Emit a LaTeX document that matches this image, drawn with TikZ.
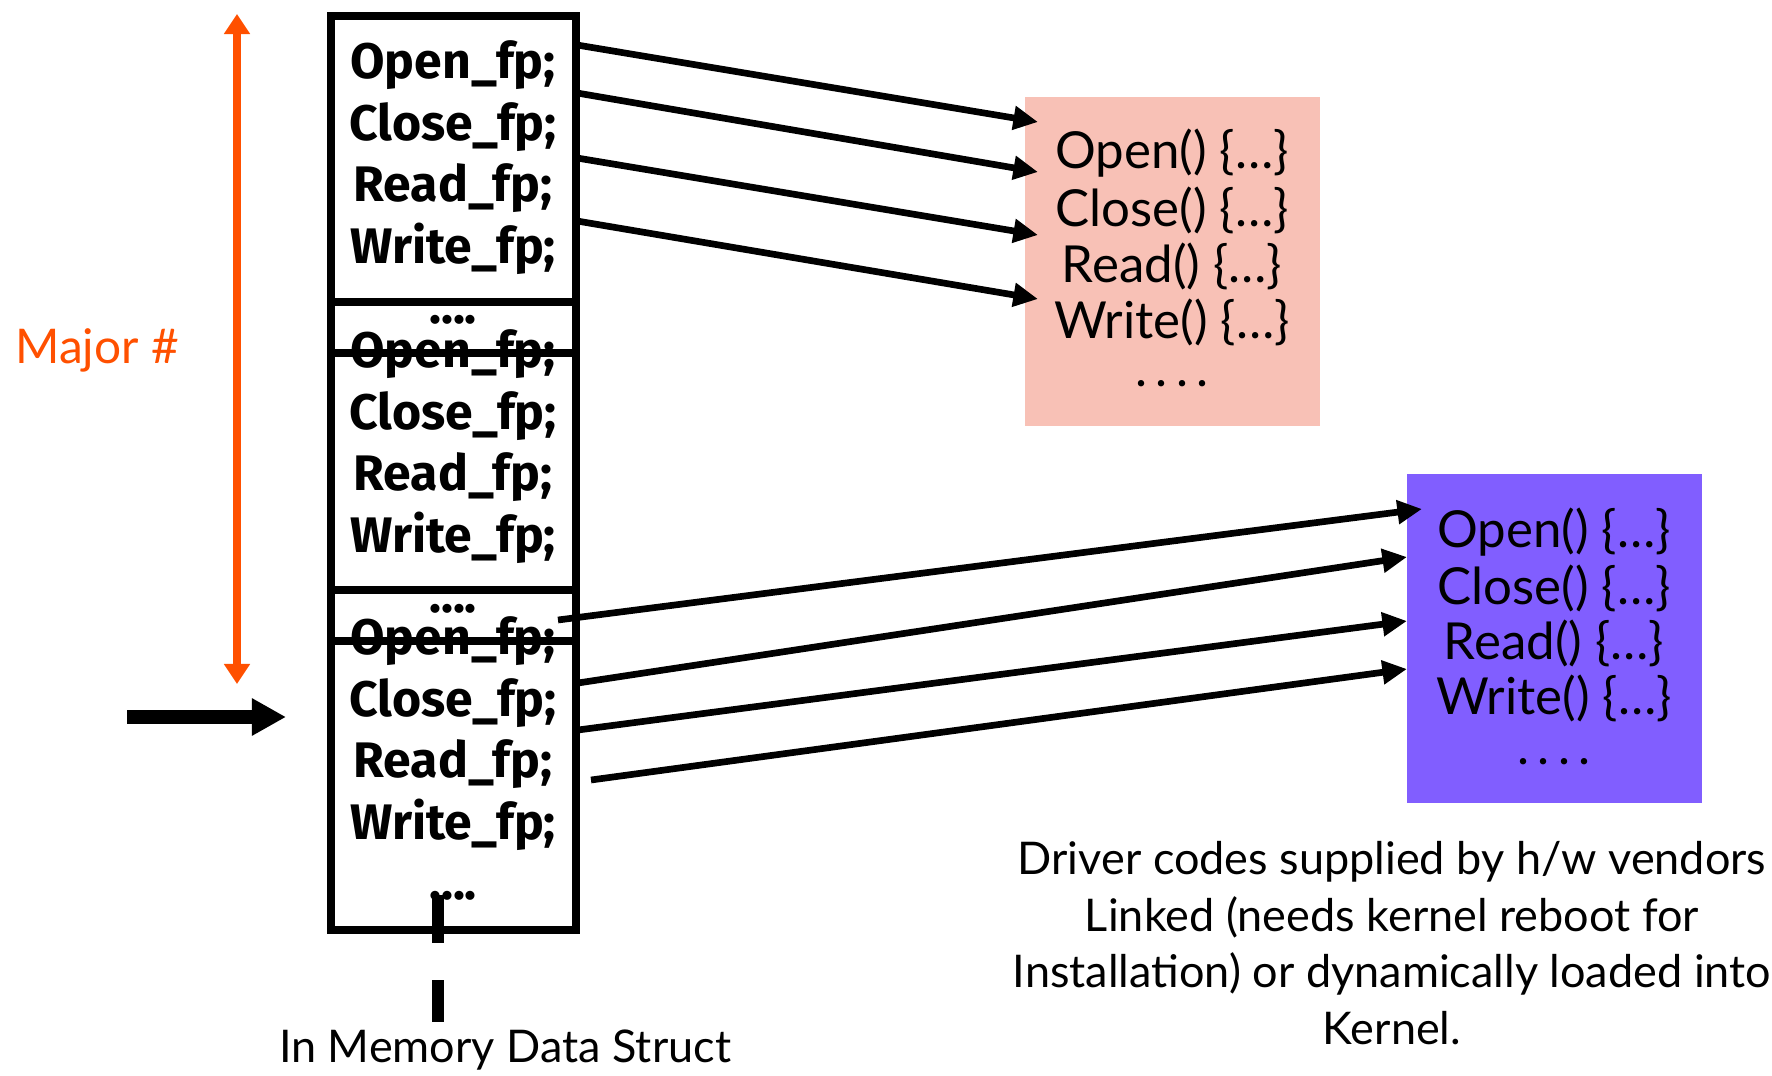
\documentclass[tikz,border=0pt]{standalone}
\usepackage{fontspec}
\usepackage{tikz}
\usetikzlibrary{arrows.meta}
\newfontfamily\gillfont{Lato}
\newfontfamily\comicfont{Fira Sans}
\definecolor{majororange}{RGB}{255,80,0}
\definecolor{drvpink}{RGB}{248,193,182}
\definecolor{drvpurple}{RGB}{129,94,255}

\begin{document}
\begin{tikzpicture}[x=0.01cm,y=-0.01cm,
    fpline/.style={font=\comicfont\bfseries\fontsize{14.2}{16}\selectfont},
    codeline/.style={font=\gillfont\fontsize{14.5}{16.1}\selectfont},
    notetext/.style={font=\gillfont\fontsize{12.8}{16.1}\selectfont},
    ptrarrow/.style={line width=1.9pt,-{Triangle[length=7pt,width=6.5pt]}}]
  \useasboundingbox (0,0) rectangle (1772,1076);

  % driver code boxes
  \node[fill=drvpink,inner sep=0,minimum width=2.95cm,minimum height=3.29cm] (pinkbox) at (1172.5,261.5) {};
  \node[fill=drvpurple,inner sep=0,minimum width=2.95cm,minimum height=3.29cm] (purplebox) at (1554.5,638.5) {};
  \foreach \name/\y in {Open/153,Close/210,Read/266,Write/322}
    \node[codeline] (p\name) at (1172,\y) {\name() \{…\}};
  \node[codeline] (pdots) at (1172,384) {.\,.\,.\,.};
  \foreach \name/\y in {Open/532,Close/588,Read/643,Write/698}
    \node[codeline] (q\name) at (1554,\y) {\name() \{…\}};
  \node[codeline] (qdots) at (1554,762) {.\,.\,.\,.};

  % the table of function pointers
  \foreach \blk/\dy in {a/0,b/289,c/576} {
    \foreach \name/\y in {Open/65,Close/127,Read/188,Write/249}
      \node[fpline] (\blk\name) at (453,{\y+\dy}) {\name\_fp;};
    \node[fpline] (\blk dots) at (453,{320+\dy}) {....};
  }
  \draw[line width=2.3pt] (331,16) rectangle (576,930);
  \foreach \y in {302,353,590,641}
    \draw[line width=2.3pt] (331,\y) -- (576,\y);

  % pointers into the drivers
  \coordinate (s1) at (577,45);   \coordinate (t1) at (1038,122);
  \coordinate (s2) at (577,93);   \coordinate (t2) at (1038,172);
  \coordinate (s3) at (577,158);  \coordinate (t3) at (1038,235);
  \coordinate (s4) at (577,221);  \coordinate (t4) at (1038,299);
  \coordinate (u1) at (558,620);  \coordinate (v1) at (1422,509);
  \coordinate (u2) at (578,683);  \coordinate (v2) at (1407,557);
  \coordinate (u3) at (578,730);  \coordinate (v3) at (1407,621);
  \coordinate (u4) at (591,780);  \coordinate (v4) at (1407,669);
  \foreach \i in {1,...,4} {
    \draw[ptrarrow] (s\i) -- (t\i);
    \draw[ptrarrow] (u\i) -- (v\i);
  }

  % major number
  \coordinate (majtop) at (237,14);
  \coordinate (majbot) at (237,684);
  \draw[majororange,line width=2pt,{Triangle[length=5.7pt,width=7.1pt]}-{Triangle[length=5.7pt,width=7.1pt]}] (majtop) -- (majbot);
  \node[notetext,font=\gillfont\fontsize{13.6}{16}\selectfont,text=majororange] (major) at (97,350) {Major \#};
  \coordinate (idxin) at (127,717);
  \coordinate (idxtip) at (286,717);
  \draw[line width=3.7pt,-{Triangle[length=9.7pt,width=10pt]}] (idxin) -- (idxtip);

  % labels
  \node[notetext] (memlbl) at (505,1050) {In Memory Data Struct};
  \coordinate (dashtop) at (438,895);
  \coordinate (dashbot) at (438,1022);
  \draw[line width=3.4pt,dash pattern=on 13.7pt off 10.5pt] (dashtop) -- (dashbot);
  \node[notetext,align=center] (drvnote) at (1392,943) {Driver codes supplied by h/w vendors\\
    Linked (needs kernel reboot for\\Installation) or dynamically loaded into\\Kernel.};
\end{tikzpicture}
\end{document}
